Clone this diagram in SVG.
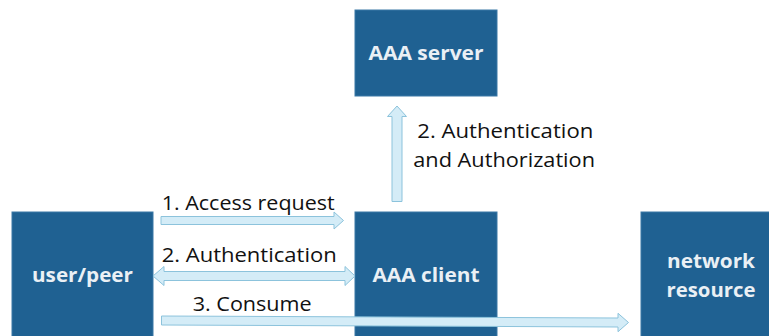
<svg xmlns="http://www.w3.org/2000/svg" width="769" height="336" viewBox="0 0 769 336">
<style>
.box{fill:#1f6192;stroke:#3a78a6;stroke-width:1}
.bl{font-family:"Open Sans","Liberation Sans",Arial,sans-serif;font-weight:bold;font-size:20px;fill:#eaf0f5;text-anchor:middle}
.lbl{font-family:"Open Sans","Liberation Sans",Arial,sans-serif;font-size:20px;fill:#111}
.arr{fill:#d4ecf7;stroke:#8cc3dc;stroke-width:1;stroke-linejoin:miter}
</style>
<rect width="769" height="336" fill="#ffffff"/>
<g id="aaa-server"><rect class="box" x="355" y="10" width="142" height="86"/><text class="bl" x="426" y="60" textLength="115" lengthAdjust="spacingAndGlyphs">AAA server</text></g>
<g id="user-peer"><rect class="box" x="12" y="212" width="141" height="130"/><text class="bl" x="82.5" y="282" textLength="101" lengthAdjust="spacingAndGlyphs">user/peer</text></g>
<g id="aaa-client"><rect class="box" x="355" y="212" width="142" height="130"/><text class="bl" x="426" y="282" textLength="107" lengthAdjust="spacingAndGlyphs">AAA client</text></g>
<g id="network-resource"><rect class="box" x="641" y="212" width="142" height="130"/><text class="bl" x="711" y="268" textLength="88" lengthAdjust="spacingAndGlyphs">network</text><text class="bl" x="711" y="297" textLength="89" lengthAdjust="spacingAndGlyphs">resource</text></g>
<g id="connectors">
<polygon class="arr" points="397,106 406.5,116.5 402,116.5 402,201.5 392,201.5 392,116.5 387.5,116.5"/>
<polygon class="arr" points="161,216.5 334,216.5 334,212 343.5,220.5 334,229 334,224.5 161,224.5"/>
<polygon class="arr" points="153,276 164,266.5 164,271.5 345,271.5 345,266.5 355,276 345,285.5 345,280.5 164,280.5 164,285.5"/>
<polygon class="arr" points="161.5,316 618,318 618,313.3 628.5,322.5 618,331.7 618,327 161.5,325"/>
<text class="lbl" x="161.7" y="210" textLength="173" lengthAdjust="spacingAndGlyphs">1. Access request</text>
<text class="lbl" x="161.7" y="261.7" textLength="175" lengthAdjust="spacingAndGlyphs">2. Authentication</text>
<text class="lbl" x="192.7" y="310.7" textLength="119" lengthAdjust="spacingAndGlyphs">3. Consume</text>
<text class="lbl" x="417.3" y="138.3" textLength="176" lengthAdjust="spacingAndGlyphs">2. Authentication</text>
<text class="lbl" x="413.3" y="166.7" textLength="181.7" lengthAdjust="spacingAndGlyphs">and Authorization</text>
</g>
</svg>
